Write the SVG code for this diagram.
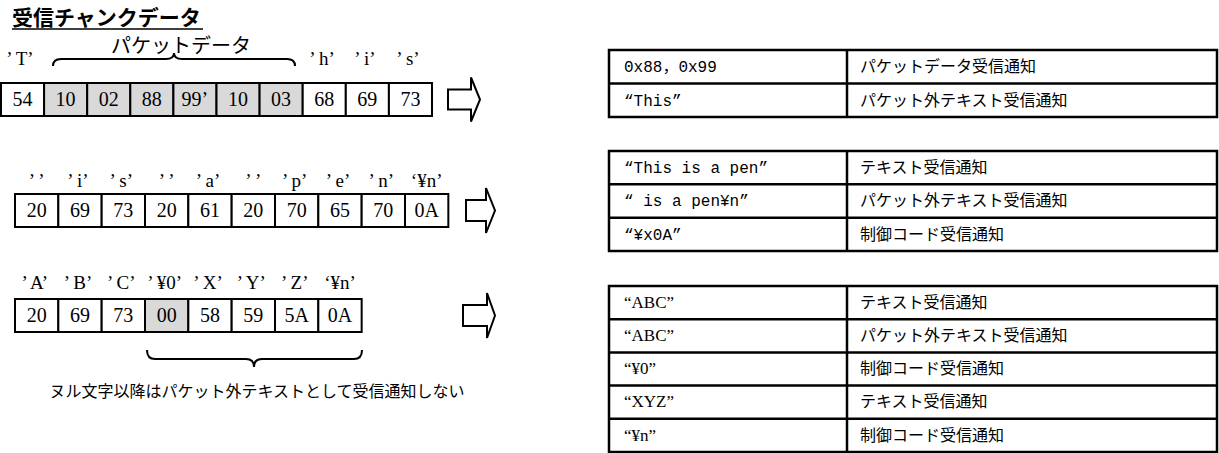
<svg xmlns="http://www.w3.org/2000/svg" width="1219" height="453" viewBox="0 0 1219 453">
<style>
.bg{fill:#fff}
.cell{fill:#fff;stroke:#000;stroke-width:2}
.gray{fill:#d9d9d9;stroke:#000;stroke-width:2}
.num{font-family:"Liberation Serif","Noto Sans CJK JP",serif;font-size:20px;text-anchor:middle;fill:#000}
.lbl{font-family:"Liberation Serif","Noto Sans CJK JP",serif;font-size:19px;text-anchor:middle;fill:#000}
.jp{font-family:"Noto Sans CJK JP",sans-serif;font-size:20px;text-anchor:middle;fill:#000}
.note{font-family:"Noto Sans CJK JP",sans-serif;font-size:16px;text-anchor:middle;fill:#000}
.title{font-family:"Noto Sans CJK JP",sans-serif;font-size:21px;font-weight:bold;fill:#000}
.brace{fill:none;stroke:#000;stroke-width:2}
.arrow{fill:#fff;stroke:#000;stroke-width:2;stroke-linejoin:miter}
.tbl{fill:#fff;stroke:#000;stroke-width:2.5}
.rule{stroke:#000;stroke-width:2.5}
.t1{font-family:"Liberation Mono","Noto Sans CJK JP",monospace;font-size:16px;fill:#000}
.t2{font-family:"Liberation Serif","Noto Sans CJK JP",serif;font-size:17px;fill:#000}
.tj{font-family:"Noto Sans CJK JP",sans-serif;font-size:16px;fill:#000}
</style>
<rect class="bg" x="0" y="0" width="1219" height="453"/>

<g id="title">
<text class="title" x="12" y="25">受信チャンクデータ</text>
<line x1="12" y1="29" x2="203" y2="29" stroke="#000" stroke-width="1.5"/>
</g>

<g id="row1">
<text class="jp" x="181" y="53">パケットデータ</text>
<path class="brace" d="M53,66 Q53,59 61,59 L166,59 Q174,59 174,53 Q174,59 182,59 L287,59 Q295,59 295,66"/>
<text class="lbl" x="20" y="65">’ T’</text>
<text class="lbl" x="322" y="65">’ h’</text>
<text class="lbl" x="365" y="65">’ i’</text>
<text class="lbl" x="408" y="65">’ s’</text>
<rect class="cell" x="1" y="83" width="43.1" height="33"/>
<rect class="gray" x="44.1" y="83" width="43.1" height="33"/>
<rect class="gray" x="87.2" y="83" width="43.1" height="33"/>
<rect class="gray" x="130.3" y="83" width="43.1" height="33"/>
<rect class="gray" x="173.4" y="83" width="43.1" height="33"/>
<rect class="gray" x="216.5" y="83" width="43.1" height="33"/>
<rect class="gray" x="259.6" y="83" width="43.1" height="33"/>
<rect class="cell" x="302.7" y="83" width="43.1" height="33"/>
<rect class="cell" x="345.8" y="83" width="43.1" height="33"/>
<rect class="cell" x="388.9" y="83" width="43.1" height="33"/>
<text class="num" x="22.5" y="106">54</text>
<text class="num" x="65.6" y="106">10</text>
<text class="num" x="108.7" y="106">02</text>
<text class="num" x="151.8" y="106">88</text>
<text class="num" x="194.9" y="106">99’</text>
<text class="num" x="238" y="106">10</text>
<text class="num" x="281.1" y="106">03</text>
<text class="num" x="324.2" y="106">68</text>
<text class="num" x="367.3" y="106">69</text>
<text class="num" x="410.4" y="106">73</text>
</g>

<g id="row2">
<text class="lbl" x="36.7" y="187">’ ’</text>
<text class="lbl" x="78" y="187">’ i’</text>
<text class="lbl" x="121.3" y="187">’ s’</text>
<text class="lbl" x="166.7" y="187">’ ’</text>
<text class="lbl" x="208" y="187">’ a’</text>
<text class="lbl" x="253.3" y="187">’ ’</text>
<text class="lbl" x="294.7" y="187">’ p’</text>
<text class="lbl" x="338" y="187">’ e’</text>
<text class="lbl" x="381.3" y="187">’ n’</text>
<text class="lbl" x="426.7" y="187">‘¥n’</text>
<rect class="cell" x="15" y="194" width="43.33" height="33"/>
<rect class="cell" x="58.33" y="194" width="43.33" height="33"/>
<rect class="cell" x="101.67" y="194" width="43.33" height="33"/>
<rect class="cell" x="145" y="194" width="43.33" height="33"/>
<rect class="cell" x="188.33" y="194" width="43.33" height="33"/>
<rect class="cell" x="231.67" y="194" width="43.33" height="33"/>
<rect class="cell" x="275" y="194" width="43.33" height="33"/>
<rect class="cell" x="318.33" y="194" width="43.33" height="33"/>
<rect class="cell" x="361.67" y="194" width="43.33" height="33"/>
<rect class="cell" x="405" y="194" width="43.33" height="33"/>
<text class="num" x="36.7" y="217">20</text>
<text class="num" x="80" y="217">69</text>
<text class="num" x="123.3" y="217">73</text>
<text class="num" x="166.7" y="217">20</text>
<text class="num" x="210" y="217">61</text>
<text class="num" x="253.3" y="217">20</text>
<text class="num" x="296.7" y="217">70</text>
<text class="num" x="340" y="217">65</text>
<text class="num" x="383.3" y="217">70</text>
<text class="num" x="426.7" y="217">0A</text>
</g>

<g id="row3">
<text class="lbl" x="34.7" y="289">’ A’</text>
<text class="lbl" x="78" y="289">’ B’</text>
<text class="lbl" x="121.3" y="289">’ C’</text>
<text class="lbl" x="164.7" y="289">’ ¥0’</text>
<text class="lbl" x="208" y="289">’ X’</text>
<text class="lbl" x="251.3" y="289">’ Y’</text>
<text class="lbl" x="294.7" y="289">’ Z’</text>
<text class="lbl" x="340" y="289">‘¥n’</text>
<rect class="cell" x="15" y="299" width="43.33" height="33"/>
<rect class="cell" x="58.33" y="299" width="43.33" height="33"/>
<rect class="cell" x="101.67" y="299" width="43.33" height="33"/>
<rect class="gray" x="145" y="299" width="43.33" height="33"/>
<rect class="cell" x="188.33" y="299" width="43.33" height="33"/>
<rect class="cell" x="231.67" y="299" width="43.33" height="33"/>
<rect class="cell" x="275" y="299" width="43.33" height="33"/>
<rect class="cell" x="318.33" y="299" width="43.33" height="33"/>
<text class="num" x="36.7" y="322">20</text>
<text class="num" x="80" y="322">69</text>
<text class="num" x="123.3" y="322">73</text>
<text class="num" x="166.7" y="322">00</text>
<text class="num" x="210" y="322">58</text>
<text class="num" x="253.3" y="322">59</text>
<text class="num" x="296.7" y="322">5A</text>
<text class="num" x="340" y="322">0A</text>
<path class="brace" d="M147,350 Q147,359 155,359 L246,359 Q254,359 254,367 Q254,359 262,359 L354,359 Q362,359 362,350"/>
<text class="note" x="257" y="397">ヌル文字以降はパケット外テキストとして受信通知しない</text>
</g>

<g id="connectors">
<polygon class="arrow" points="448,89.5 471,89.5 471,77.5 480,99.5 471,121.5 471,109.5 448,109.5"/>
<polygon class="arrow" points="466,200 486,200 486,188 495,210.5 486,233 486,221 466,221"/>
<polygon class="arrow" points="463,305 487,305 487,293 495,315.5 487,338 487,326 463,326"/>
</g>

<g id="table1">
<rect class="tbl" x="609" y="50" width="608" height="67"/>
<line class="rule" x1="609" y1="83.5" x2="1217" y2="83.5"/>
<line class="rule" x1="847" y1="50" x2="847" y2="117"/>
<text class="t1" x="624" y="72">0x88，0x99</text>
<text class="tj" x="860" y="72">パケットデータ受信通知</text>
<text class="t1" x="624" y="106">“This”</text>
<text class="tj" x="860" y="106">パケット外テキスト受信通知</text>
</g>

<g id="table2">
<rect class="tbl" x="609" y="151" width="608" height="100"/>
<line class="rule" x1="609" y1="184.3" x2="1217" y2="184.3"/>
<line class="rule" x1="609" y1="217.7" x2="1217" y2="217.7"/>
<line class="rule" x1="847" y1="151" x2="847" y2="251"/>
<text class="t1" x="624" y="173">“This is a pen”</text>
<text class="tj" x="860" y="173">テキスト受信通知</text>
<text class="t1" x="624" y="206">“ is a pen¥n”</text>
<text class="tj" x="860" y="206">パケット外テキスト受信通知</text>
<text class="t1" x="624" y="240">“¥x0A”</text>
<text class="tj" x="860" y="240">制御コード受信通知</text>
</g>

<g id="table3">
<rect class="tbl" x="609" y="286" width="608" height="166"/>
<line class="rule" x1="609" y1="319.2" x2="1217" y2="319.2"/>
<line class="rule" x1="609" y1="352.4" x2="1217" y2="352.4"/>
<line class="rule" x1="609" y1="385.6" x2="1217" y2="385.6"/>
<line class="rule" x1="609" y1="418.8" x2="1217" y2="418.8"/>
<line class="rule" x1="847" y1="286" x2="847" y2="452"/>
<text class="t2" x="624" y="308">“ABC”</text>
<text class="tj" x="860" y="308">テキスト受信通知</text>
<text class="t2" x="624" y="341">“ABC”</text>
<text class="tj" x="860" y="341">パケット外テキスト受信通知</text>
<text class="t2" x="624" y="374">“¥0”</text>
<text class="tj" x="860" y="374">制御コード受信通知</text>
<text class="t2" x="624" y="407">“XYZ”</text>
<text class="tj" x="860" y="407">テキスト受信通知</text>
<text class="t2" x="624" y="441">“¥n”</text>
<text class="tj" x="860" y="441">制御コード受信通知</text>
</g>
</svg>
